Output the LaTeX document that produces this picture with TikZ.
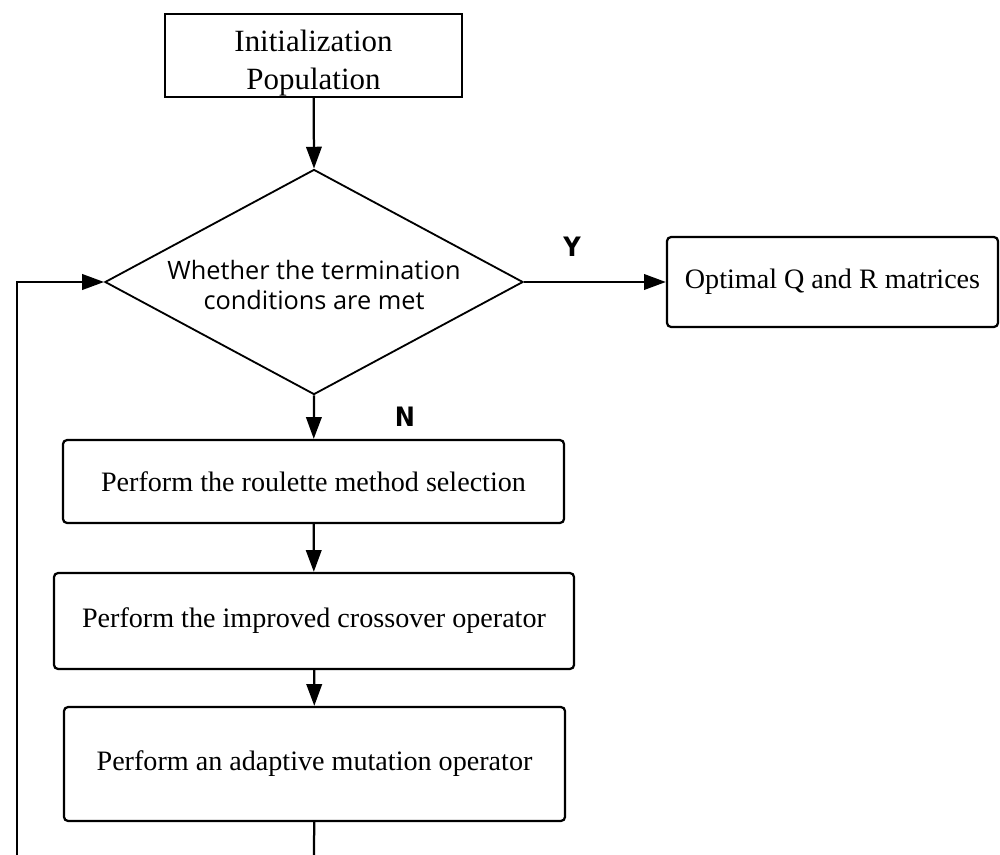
\documentclass[tikz,border=0pt]{standalone}
\usepackage{fontspec}
\setmainfont{Liberation Serif}
\newfontfamily\condfont{Open Sans}
\newfontfamily\ynfont{DejaVu Sans Condensed}
\usetikzlibrary{arrows.meta,shapes.geometric}
\begin{document}
\begin{tikzpicture}[x=0.025cm,y=-0.025cm,
  line width=1.6pt,
  stepbox/.style={draw,rounded corners=3pt,inner sep=0pt,font=\fontsize{20}{27}\selectfont},
  decision/.style={draw,diamond,inner sep=0pt,line width=1.3pt},
  flow/.style={-{Triangle[length=15.5pt,width=11pt]}},
  yn/.style={font=\fontsize{19}{20}\ynfont\bfseries}]
\useasboundingbox (0,0) rectangle (1000,855);
% start and test
\node[draw,inner sep=0pt,minimum width=7.425cm,minimum height=2.075cm] (init) at (313.5,55.5) {};
\node[align=center,font=\fontsize{22}{27.5}\selectfont] (inittext) at (313.5,63) {Initialization\\Population};
\node[decision,minimum width=10.45cm,minimum height=5.625cm] (cond) at (314,282) {};
\node[align=center,font=\fontsize{18}{21}\condfont] (condtext) at (314,285) {Whether the termination\\conditions are met};
\node[stepbox,minimum width=8.275cm,minimum height=2.25cm] (optimal) at (832.5,282) {Optimal Q and R matrices};
% GA operators
\node[stepbox,minimum width=12.525cm,minimum height=2.075cm] (select) at (313.5,481.5) {Perform the roulette method selection};
\node[stepbox,minimum width=13cm,minimum height=2.4cm] (cross) at (314,621) {Perform the improved crossover operator};
\node[stepbox,minimum width=12.525cm,minimum height=2.85cm] (mutate) at (314.5,764) {Perform an adaptive mutation operator};
% branch labels
\node[yn] (yes) at (572,247) {Y};
\node[yn] (no) at (405,417) {N};
% loop ends cut by the page
\coordinate (mutend) at (314,858);
\coordinate (loopend) at (17,858);
\draw[flow] (init) -- (cond.north);
\draw[flow] (cond.east) -- (optimal);
\draw[flow] (cond.south) -- (select);
\draw[flow] (select) -- (cross);
\draw[flow] (cross) -- (mutate);
\draw (mutate) -- (mutend);
\draw[flow] (loopend) |- (cond.west);
\end{tikzpicture}
\end{document}
